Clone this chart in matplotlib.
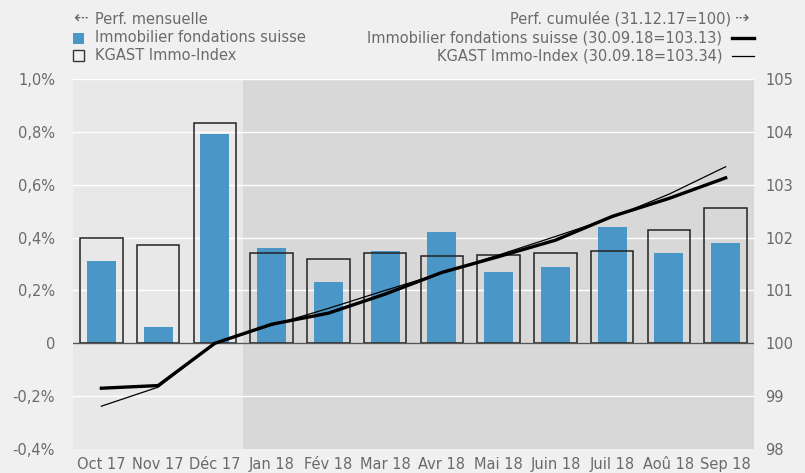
import numpy as np
import matplotlib.pyplot as plt
from matplotlib.patches import Rectangle
from matplotlib.lines import Line2D

months = ['Oct 17', 'Nov 17', 'Déc 17', 'Jan 18', 'Fév 18', 'Mar 18', 'Avr 18',
          'Mai 18', 'Juin 18', 'Juil 18', 'Aoû 18', 'Sep 18']
# performance mensuelle (%)
perf_fond = [0.31, 0.06, 0.79, 0.36, 0.23, 0.35, 0.42, 0.27, 0.29, 0.44, 0.34, 0.38]
perf_kgast = [0.40, 0.37, 0.835, 0.34, 0.32, 0.34, 0.33, 0.335, 0.34, 0.35, 0.43, 0.51]
# performance cumulée (31.12.17=100)
cum_fond = [99.15, 99.20, 100.0, 100.36, 100.57, 100.93, 101.34, 101.64, 101.95, 102.40, 102.74, 103.13]
cum_kgast = [98.81, 99.17, 100.0, 100.34, 100.66, 101.00, 101.33, 101.67, 102.02, 102.38, 102.82, 103.34]

left_ticks = [-0.4, -0.2, 0, 0.2, 0.4, 0.6, 0.8, 1.0]
left_labels = ['-0,4%', '-0,2%', '0', '0,2%', '0,4%', '0,6%', '0,8%', '1,0%']
right_ticks = [98, 99, 100, 101, 102, 103, 104, 105]

W, H = 805, 473
txt = '#6a6a6a'
blue = '#4a96c6'
plt.rcParams['font.family'] = ['DejaVu Sans']

fig = plt.figure(figsize=(W / 100, H / 100), dpi=100, facecolor='#f0f0f0')
ax = fig.add_axes([73 / W, 1 - 449 / H, 681 / W, 370 / H])
x = np.arange(len(months))

ax.set_xlim(-0.5, len(months) - 0.5)
ax.set_ylim(-0.4, 1.0)
ax.axvspan(-0.5, 2.5, color='#e8e8e8', zorder=0, lw=0)
ax.axvspan(2.5, len(months) - 0.5, color='#d8d8d8', zorder=0, lw=0)
for t in left_ticks[1:]:
    ax.axhline(t, color='white', lw=1.0, zorder=1)

ax.bar(x, perf_fond, width=0.51, color=blue, zorder=2)
ax.bar(x, perf_kgast, width=0.75, facecolor='none', edgecolor='#222222', lw=1.1, zorder=3)
ax.axhline(0, color='#555555', lw=1, zorder=4)

ax.set_yticks(left_ticks)
ax.set_yticklabels(left_labels)
ax.set_xticks(x)
ax.set_xticklabels(months)
ax.tick_params(length=0, colors=txt, labelsize=10.5)
ax.tick_params(axis='x', pad=6)
ax.tick_params(axis='y', pad=13)
for s in ax.spines.values():
    s.set_visible(False)

ax2 = ax.twinx()
ax2.set_ylim(98, 105)
ax2.set_yticks(right_ticks)
ax2.plot(x, cum_fond, color='black', lw=2.4, zorder=5)
ax2.plot(x, cum_kgast, color='black', lw=0.9, zorder=5)
ax2.tick_params(length=0, colors=txt, labelsize=10.5, pad=8)
for s in ax2.spines.values():
    s.set_visible(False)

# légendes
fs = 10.5
fig.text(73 / W, 1 - 19 / H, '⇠', color=txt, fontsize=fs + 2, va='center', ha='left')
fig.text(95 / W, 1 - 19 / H, 'Perf. mensuelle', color=txt, fontsize=fs, va='center')
fig.text(95 / W, 1 - 38 / H, 'Immobilier fondations suisse', color=txt, fontsize=fs, va='center')
fig.text(95 / W, 1 - 56 / H, 'KGAST Immo-Index', color=txt, fontsize=fs, va='center')
fig.patches.append(Rectangle((73 / W, 1 - 44 / H), 11 / W, 11 / H, transform=fig.transFigure,
                             facecolor=blue, edgecolor='none'))
fig.patches.append(Rectangle((73 / W, 1 - 61 / H), 11 / W, 11 / H, transform=fig.transFigure,
                             facecolor='none', edgecolor='#333333', lw=1))

fig.text(731 / W, 1 - 19 / H, 'Perf. cumulée (31.12.17=100)', color=txt, fontsize=fs, va='center', ha='right')
fig.text(735 / W, 1 - 19 / H, '⇢', color=txt, fontsize=fs + 2, va='center', ha='left')
fig.text(722 / W, 1 - 38 / H, 'Immobilier fondations suisse (30.09.18=103.13)', color=txt, fontsize=fs,
         va='center', ha='right')
fig.text(722 / W, 1 - 56 / H, 'KGAST Immo-Index (30.09.18=103.34)', color=txt, fontsize=fs,
         va='center', ha='right')
fig.lines.append(Line2D([732 / W, 754 / W], [1 - 38 / H, 1 - 38 / H], transform=fig.transFigure,
                        color='black', lw=2.4))
fig.lines.append(Line2D([732 / W, 754 / W], [1 - 56 / H, 1 - 56 / H], transform=fig.transFigure,
                        color='black', lw=0.9))

fig.savefig('out.png', dpi=100, facecolor=fig.get_facecolor())
